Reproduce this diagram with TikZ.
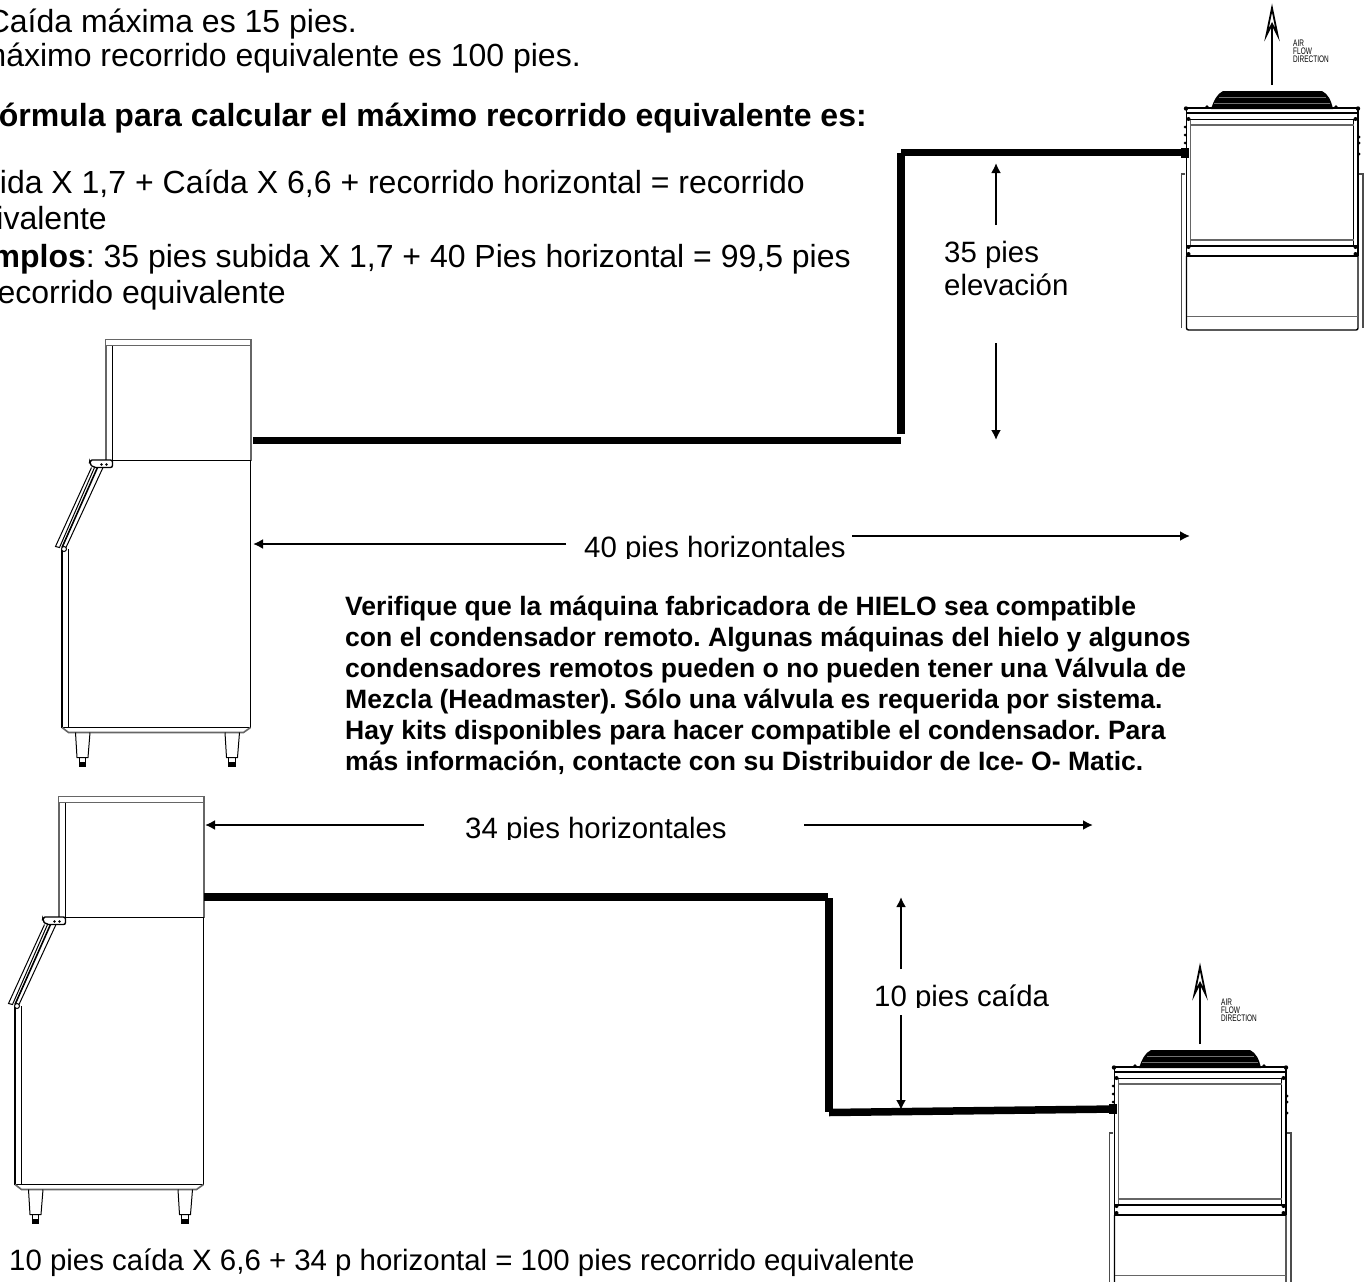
\documentclass[tikz,border=0pt]{standalone}
\usepackage{fontspec}
\setmainfont{Liberation Sans}
\usetikzlibrary{arrows.meta}
\tikzset{
  top/.style={anchor=base east,inner sep=0pt,font=\fontsize{32}{36}\selectfont},
  lbl/.style={anchor=base west,inner sep=0pt,font=\fontsize{29.4}{34}\selectfont},
  bnote/.style={anchor=base west,inner sep=0pt,font=\fontsize{26.55}{32}\selectfont\bfseries},
  pipe/.style={line width=7.5pt,line cap=butt},
  dim/.style={line width=1.9pt,-{Latex[length=10pt,width=10pt]}},
  thin line/.style={line width=1.4pt,black},
  grey line/.style={line width=1.4pt,black!60},
  ice/.pic={
    \draw[grey line] (0,0) rectangle (145.5,6);
    \draw[grey line] (145.5,6) -- (145.5,121);
    \draw[grey line] (0.5,6) -- (0.5,121);
    \draw[line width=1.8pt] (7,6) -- (7,121);
    \draw[line width=1.8pt] (7,121) -- (145.5,121);
    \draw[thin line] (145,121) -- (145,388);
    \draw[line width=1.8pt] (-43.5,388) -- (145,388);
    \draw[thin line] (-43.5,388) -- (-43.5,209);
    \draw[line width=1.8pt] (-37,388) -- (-37,209);
    \draw[thin line,fill=white,rounded corners=2pt] (-15.5,120.5) -- (7,120.5) -- (7,128) -- (-12,128) -- (-16,124) -- cycle;
    \draw[line width=1pt] (-14,128) -- (-50,207) -- (-46,208) -- (-11,128);
    \draw[line width=1.6pt] (-8,128) -- (-43.5,208);
    \draw[line width=1pt] (-2.5,128) -- (-39.5,208);
    \draw[line width=1pt,fill=white] (-41.5,209.5) circle (2.5);
    \fill (-4,125) circle (1.4) (1,125) circle (1.4);
    \draw[line width=1.6pt,black!60] (-43.5,388) -- (-37,393) -- (138,393) -- (145,388);
    \foreach \lx in {-30,119.5}{
      \draw[line width=1pt] (\lx,393) -- (\lx+1.5,418) -- (\lx+12.5,418) -- (\lx+14.5,393);
      \draw[line width=1pt] (\lx+3.5,418) rectangle (\lx+10,427);
      \fill (\lx+3.5,422) rectangle (\lx+10,427);
    }
  },
  cond/.pic={
    \fill (25,1) .. controls (28,-8) and (31,-14) .. (37,-17) -- (136,-17) .. controls (142,-14) and (145,-8) .. (147,1) -- cycle;
    \draw[black!55,line width=.5pt] (28,-5) -- (144,-5) (33,-11) -- (140,-11);
    \draw[line width=2pt] (86,-23) -- (86,-85);
    \draw[line width=1.8pt,fill=white] (80.5,-73) -- (86,-100) -- (91.5,-73) -- (86,-84) -- cycle;
    \node[inner sep=0pt,anchor=north west,align=left,font=\fontsize{9.5}{8}\selectfont] at (107,-68) {\scalebox{.68}[1]{AIR}\\\scalebox{.68}[1]{FLOW}\\\scalebox{.68}[1]{DIRECTION}};
    \draw[line width=2pt] (0,0) -- (172,0);
    \draw[line width=1.2pt] (0,5) -- (172,5);
    \fill (0,0.5) circle (2.2) (172,0.5) circle (2.2) (21,-1) circle (1.8) (150,-1) circle (1.8);
    \draw[thin line] (0.5,0) -- (0.5,148) (172,0) -- (172,148);
    \draw[grey line] (4.5,11) -- (4.5,137);
    \draw[thin line] (167.5,11) -- (167.5,137);
    \draw[line width=1.6pt] (0,11.3) -- (172,11.3);
    \draw[grey line] (4.5,17) -- (167.5,17) (4.5,132) -- (167.5,132);
    \draw[line width=1.6pt] (0,137.7) -- (172,137.7);
    \draw[line width=2pt] (0,148) -- (172,148);
    \foreach \cx in {2.5,169.5}{\fill (\cx,11) circle (2) (\cx,139) circle (2) (\cx,146) circle (2);}
    \fill (-1,19) circle (1.5) (-1,27) circle (1.5) (-1,35) circle (1.5);
    \fill (173,29) circle (1.5) (173,35) circle (1.5) (173,46) circle (1.5);
    \draw[thin line,rounded corners=2pt] (0.5,148) -- (0.5,222) -- (172,222) -- (172,148);
    \draw[grey line] (1,208.7) -- (172,208.7);
    \draw[line width=1.4pt,black!70] (-4.5,220) -- (-4.5,66) -- (-1,66);
    \draw[line width=1.4pt,black!70] (177,220) -- (177,66) -- (173,66);
  }
}
\begin{document}
\frenchspacing
\begin{tikzpicture}[x=1pt,y=-1pt]
\useasboundingbox (0,0) rectangle (1368,1282);
\clip (0,0) rectangle (1368,1282);
% upper text
\node[top] (t1) at (357,32) {Caída máxima es 15 pies.};
\node[top] (t2) at (581,66) {máximo recorrido equivalente es 100 pies.};
\node[top,font=\fontsize{32}{36}\selectfont\bfseries] (t3) at (867,126) {Fórmula para calcular el máximo recorrido equivalente es:};
\node[top] (t4) at (805,193) {Subida X 1,7 + Caída X 6,6 + recorrido horizontal = recorrido};
\node[top] (t5) at (107,229) {equivalente};
\node[top] (t6) at (851,267) {\textbf{Ejemplos}: 35 pies subida X 1,7 + 40 Pies horizontal = 99,5 pies};
\node[top] (t7) at (286,303) {recorrido equivalente};
% machines
\pic (m1) at (105.5,339.5) {ice};
\pic (m2) at (58.5,796.5) {ice};
\pic (c1) at (1186,108) {cond};
\pic (c2) at (1114,1067) {cond};
% pipes
\coordinate (p1a) at (253,440.5); \coordinate (p1b) at (900.7,440.5);
\coordinate (p1c) at (901,434); \coordinate (p1d) at (901,153);
\coordinate (p1f) at (901,152.3); \coordinate (p1e) at (1188,152.3);
\draw[pipe] (p1a) -- (p1b);
\draw[pipe] (p1c) -- (p1d);
\draw[pipe] (p1f) -- (p1e);
\fill (1181,148) rectangle (1189,158);
\coordinate (p2a) at (204,897); \coordinate (p2b) at (828,897);
\coordinate (p2c) at (829,898); \coordinate (p2d) at (829,1112);
\coordinate (p2e) at (829,1112.5); \coordinate (p2f) at (1116,1109);
\draw[pipe] (p2a) -- (p2b);
\draw[pipe] (p2c) -- (p2d);
\draw[pipe] (p2e) -- (p2f);
\fill (1109,1104) rectangle (1117,1114);
% dimensions
\coordinate (d1a) at (996,225); \coordinate (d1b) at (996,163);
\coordinate (d2a) at (996,343); \coordinate (d2b) at (996,440);
\draw[dim] (d1a) -- (d1b); \draw[dim] (d2a) -- (d2b);
\node[lbl] (e1) at (944,262) {35 pies};
\node[lbl] (e2) at (944,295) {elevación};
\coordinate (d3a) at (566,544); \coordinate (d3b) at (253,544);
\coordinate (d4a) at (852,536); \coordinate (d4b) at (1190,536);
\draw[dim] (d3a) -- (d3b); \draw[dim] (d4a) -- (d4b);
\begin{scope}
\clip (575,520) rectangle (855,558.5);
\node[lbl] (h1) at (584,557) {40 pies horizontales};
\end{scope}
\coordinate (d5a) at (424,825); \coordinate (d5b) at (205,825);
\coordinate (d6a) at (804,825); \coordinate (d6b) at (1093,825);
\draw[dim] (d5a) -- (d5b); \draw[dim] (d6a) -- (d6b);
\begin{scope}
\clip (455,800) rectangle (735,839.5);
\node[lbl] (h2) at (465,838) {34 pies horizontales};
\end{scope}
\coordinate (d7a) at (901,969); \coordinate (d7b) at (901,897);
\coordinate (d8a) at (901,1015); \coordinate (d8b) at (901,1110);
\draw[dim] (d7a) -- (d7b); \draw[dim] (d8a) -- (d8b);
\begin{scope}
\clip (865,975) rectangle (1055,1007);
\node[lbl] (h3) at (874,1006) {10 pies caída};
\end{scope}
% note
\node[bnote] (n1) at (345,615) {Verifique que la máquina fabricadora de HIELO sea compatible};
\node[bnote] (n2) at (345,646) {con el condensador remoto. Algunas máquinas del hielo y algunos};
\node[bnote] (n3) at (345,677) {condensadores remotos pueden o no pueden tener una Válvula de};
\node[bnote] (n4) at (345,708) {Mezcla (Headmaster). Sólo una válvula es requerida por sistema.};
\node[bnote] (n5) at (345,739) {Hay kits disponibles para hacer compatible el condensador. Para};
\node[bnote] (n6) at (345,770) {más información, contacte con su Distribuidor de Ice- O- Matic.};
\node[lbl] (b1) at (9,1270) {10 pies caída X 6,6 + 34 p horizontal = 100 pies recorrido equivalente};
\end{tikzpicture}
\end{document}
